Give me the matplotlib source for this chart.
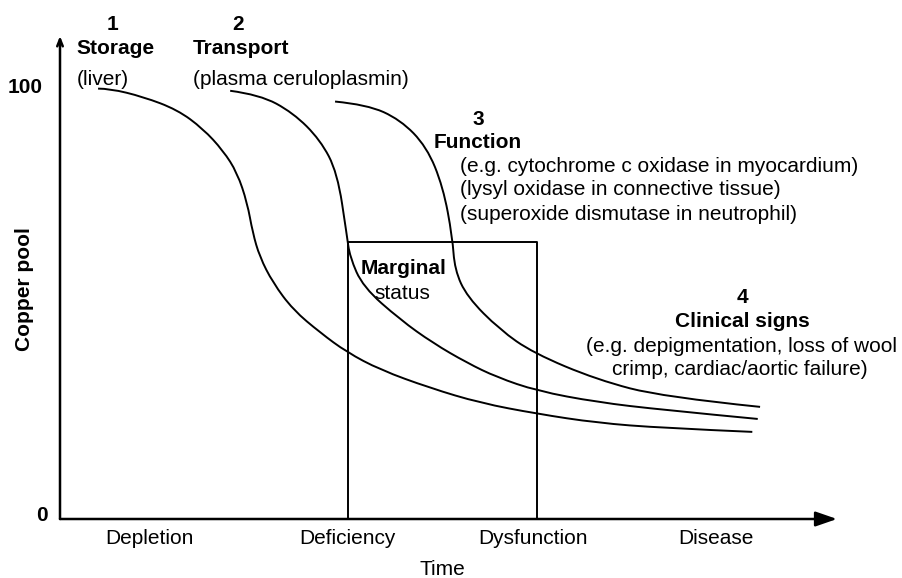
import matplotlib.pyplot as plt
from matplotlib.path import Path
from matplotlib.patches import PathPatch

plt.rcParams['font.family'] = ['Liberation Sans', 'DejaVu Sans']

# curve points (time units 0-100, copper pool 0-100)
storage_x = [4.9, 6.4, 10.7, 15.1, 18.4, 21.0, 22.8, 24.1, 24.8, 25.7, 27.4, 30.0,
             33.5, 36.9, 41.2, 47.6, 54.1, 61.4, 69.1, 77.6, 89.1]
storage_y = [99.8, 99.8, 97.9, 94.9, 90.5, 85.4, 80.3, 73.3, 66.4, 60.8, 54.8, 48.5,
             43.2, 38.7, 34.6, 30.4, 26.9, 24.4, 22.3, 21.1, 20.2]
transport_x = [21.9, 25.7, 30.0, 33.5, 35.7, 36.9, 37.3, 39.0, 43.8, 48.0, 52.4,
               56.2, 61.4, 69.1, 77.6, 89.8]
transport_y = [99.3, 98.4, 94.2, 87.9, 80.3, 66.0, 60.8, 53.8, 46.2, 40.8, 36.2,
               32.9, 29.7, 27.1, 25.3, 23.2]
function_x = [35.4, 39.5, 43.8, 47.2, 49.3, 50.5, 50.8, 52.4, 56.6, 60.9, 69.1, 77.6, 90.1]
function_y = [96.8, 96.1, 92.6, 86.3, 77.0, 65.4, 57.8, 51.5, 43.9, 38.5, 32.3, 28.3, 26.0]

# marginal status box
box_x = [37.1, 61.4]
box_top = 64.3

stages = ['Depletion', 'Deficiency', 'Dysfunction', 'Disease']
stage_x = [11.5, 37.0, 60.9, 84.4]


def smooth_curve(ax, xs, ys, lw):
    # quadratic bezier pieces through the midpoints, read points as controls
    pts = list(zip(xs, ys))
    verts = [pts[0]]
    codes = [Path.MOVETO]
    for i in range(1, len(pts) - 2):
        mid = ((pts[i][0] + pts[i + 1][0]) / 2, (pts[i][1] + pts[i + 1][1]) / 2)
        verts += [pts[i], mid]
        codes += [Path.CURVE3, Path.CURVE3]
    verts += [pts[-2], pts[-1]]
    codes += [Path.CURVE3, Path.CURVE3]
    ax.add_patch(PathPatch(Path(verts, codes), fill=False, edgecolor='black', lw=lw))


fig = plt.figure(figsize=(9.02, 5.78), dpi=100)
ax = fig.add_axes([60/902, 59/578, 777/902, 483/578])
ax.set_xlim(0, 100)
ax.set_ylim(0, 112)
ax.axis('off')

lw = 1.4
smooth_curve(ax, storage_x, storage_y, lw)
smooth_curve(ax, transport_x, transport_y, lw)
smooth_curve(ax, function_x, function_y, lw)
ax.plot([box_x[0], box_x[0], box_x[1], box_x[1]], [0, box_top, box_top, 0], color='black', lw=lw)

# axes arrows
ax.annotate('', xy=(100, 0), xytext=(0, 0), xycoords='data',
            arrowprops=dict(arrowstyle='-|>,head_length=1.3,head_width=0.45', color='black', lw=1.8,
                            shrinkA=0, shrinkB=0), annotation_clip=False)
ax.annotate('', xy=(0, 112), xytext=(0, 0), xycoords='data',
            arrowprops=dict(arrowstyle='->,head_length=0.5,head_width=0.2', color='black', lw=1.8,
                            shrinkA=0, shrinkB=0), annotation_clip=False)

fs = 15
ax.text(-2.2, 100, '100', ha='right', va='center', fontsize=fs, fontweight='bold', clip_on=False)
ax.text(-1.6, 0.8, '0', ha='right', va='center', fontsize=fs, fontweight='bold', clip_on=False)
for lab, xx in zip(stages, stage_x):
    ax.text(xx, -4.6, lab, ha='center', va='center', fontsize=fs, clip_on=False)
ax.text(49.2, -11.6, 'Time', ha='center', va='center', fontsize=fs, clip_on=False)
ax.text(-4.6, 53.4, 'Copper pool', rotation=90, ha='center', va='center', fontsize=fs,
        fontweight='bold', clip_on=False)

# stage annotations
ax.text(6.8, 114.6, '1', ha='center', va='center', fontsize=fs, fontweight='bold', clip_on=False)
ax.text(2.1, 109.0, 'Storage', ha='left', va='center', fontsize=fs, fontweight='bold', clip_on=False)
ax.text(2.1, 101.8, '(liver)', ha='left', va='center', fontsize=fs, clip_on=False)
ax.text(22.9, 114.6, '2', ha='center', va='center', fontsize=fs, fontweight='bold', clip_on=False)
ax.text(17.1, 109.0, 'Transport', ha='left', va='center', fontsize=fs, fontweight='bold', clip_on=False)
ax.text(17.1, 101.8, '(plasma ceruloplasmin)', ha='left', va='center', fontsize=fs, clip_on=False)

ax.text(53.8, 92.6, '3', ha='center', va='center', fontsize=fs, fontweight='bold')
ax.text(48.1, 87.2, 'Function', ha='left', va='center', fontsize=fs, fontweight='bold')
ax.text(51.5, 81.7, '(e.g. cytochrome c oxidase in myocardium)', ha='left', va='center', fontsize=fs)
ax.text(51.5, 76.3, '(lysyl oxidase in connective tissue)', ha='left', va='center', fontsize=fs)
ax.text(51.5, 70.5, '(superoxide dismutase in neutrophil)', ha='left', va='center', fontsize=fs)

ax.text(44.2, 58.2, 'Marginal', ha='center', va='center', fontsize=fs, fontweight='bold')
ax.text(44.1, 52.4, 'status', ha='center', va='center', fontsize=fs)

ax.text(87.8, 51.3, '4', ha='center', va='center', fontsize=fs, fontweight='bold')
ax.text(87.8, 45.7, 'Clinical signs', ha='center', va='center', fontsize=fs, fontweight='bold')
ax.text(87.7, 39.9, '(e.g. depigmentation, loss of wool', ha='center', va='center', fontsize=fs, clip_on=False)
ax.text(87.5, 34.6, 'crimp, cardiac/aortic failure)', ha='center', va='center', fontsize=fs, clip_on=False)

plt.savefig('out.png', dpi=100)
